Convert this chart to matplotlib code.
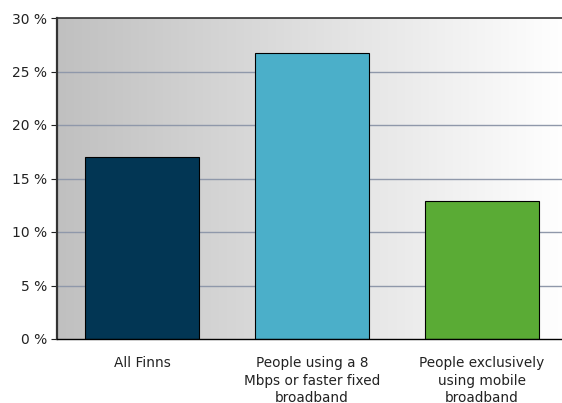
import matplotlib
matplotlib.use("Agg")
import matplotlib.pyplot as plt
import numpy as np
from matplotlib.colors import LinearSegmentedColormap

categories = ["All Finns", "People using a 8\nMbps or faster fixed\nbroadband", "People exclusively\nusing mobile\nbroadband"]
values = [17.0, 26.7, 12.9]
colors = ["#023654", "#4bafc9", "#5aab35"]
yticks = [0, 5, 10, 15, 20, 25, 30]

W, H = 562, 403
fig = plt.figure(figsize=(W / 100, H / 100), dpi=100)
left, right, top, bottom = 57, 567, 18, 339
ax = fig.add_axes([left / W, 1 - bottom / H, (right - left) / W, (bottom - top) / H])

ax.set_xlim(-0.5, 2.5)
ax.set_ylim(0, 30)

cmap = LinearSegmentedColormap.from_list("bg", ["#c0c0c0", "#ffffff"])
grad = np.linspace(0, 1, 256).reshape(1, -1)
ax.imshow(grad, extent=[-0.5, 2.5, 0, 30], aspect="auto", cmap=cmap, zorder=0)

for t in yticks[1:-1]:
    ax.axhline(t, color="#8f98aa", lw=1.0, zorder=1)

x = np.arange(len(categories))
ax.bar(x, values, width=0.67, color=colors, edgecolor="black", linewidth=0.8, zorder=2)

ax.set_yticks(yticks)
ax.set_yticklabels([f"{t} %" for t in yticks], fontsize=10, color="#222222")
ax.set_xticks(x)
ax.set_xticklabels(categories, fontsize=9.8, linespacing=1.35, color="#222222")
ax.tick_params(axis="x", length=0, pad=12)
ax.tick_params(axis="y", length=4, width=0.8, pad=3, color="#222222")

ax.spines["left"].set_linewidth(1.6)
ax.spines["left"].set_color("#333333")
ax.spines["top"].set_linewidth(1.2)
ax.spines["top"].set_color("#333333")
ax.spines["bottom"].set_linewidth(1.0)
ax.spines["bottom"].set_color("#000000")
ax.spines["right"].set_visible(False)

fig.savefig("out.png", dpi=100)
